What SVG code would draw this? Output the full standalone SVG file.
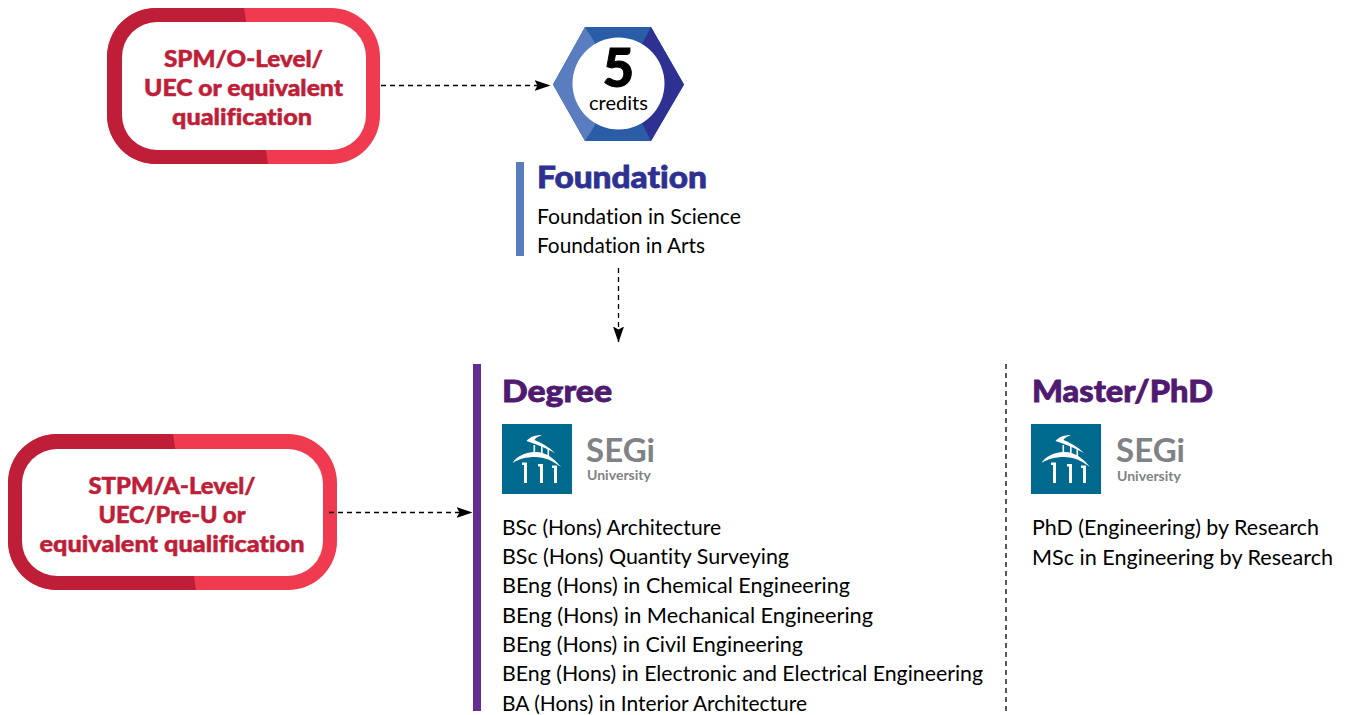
<svg xmlns="http://www.w3.org/2000/svg" width="1349" height="715" viewBox="0 0 1349 715">
<style>
text{font-family:"Lato","Open Sans","Liberation Sans",sans-serif;font-variant-ligatures:none}
.q{font-size:23px;font-weight:900;fill:#be1e37;stroke:#be1e37;stroke-width:.5px;text-anchor:middle}
.h{font-size:31px;font-weight:900;stroke-width:.8px}
.b{font-size:21.5px;fill:#000}
.conn{fill:none;stroke:#000;stroke-width:1.3;stroke-dasharray:5 4;marker-end:url(#arr)}
.seg{font-size:33px;font-weight:700;fill:#808285}
.uni{font-size:13px;font-weight:700;fill:#808285}
</style>
<defs>
<marker id="arr" viewBox="0 0 16 11" refX="15.500" refY="5.500" markerWidth="16" markerHeight="11" markerUnits="userSpaceOnUse" orient="auto"><path d="M0 0L16 5.500L0 11L3 5.500Z" fill="#000"/></marker>
<clipPath id="c1"><rect x="107" y="8" width="273" height="156" rx="49"/></clipPath>
<clipPath id="c2"><rect x="8" y="434" width="329" height="156" rx="49"/></clipPath>
<g id="logo">
<rect width="70" height="70" fill="#006a8e"/>
<g fill="#fff">
<path d="M24.500 17C28 13 33 11 40 11C36 12.500 33.500 14 32.500 16C39 18.500 47 23 53 29C44 24 34 20 24.500 17Z"/>
<path d="M10.500 39C14 33 22 28.500 33 28C43 27.500 52 34 59 43C50 36.500 43 33 33 33C24 33 17 35 10.500 39Z"/>
<rect x="31.500" y="21" width="1.600" height="9"/><rect x="39" y="22" width="1.600" height="10"/><rect x="45.500" y="25" width="1.600" height="8"/>
<path d="M20 38.500H25V59H22V41H20Z"/><path d="M36 40H41V59H38V42.500H36Z"/><path d="M50 41.500H55V59H52V44H50Z"/>
</g>
</g>
</defs>

<g id="node-spm">
<g clip-path="url(#c1)">
<rect x="107" y="8" width="273" height="156" fill="#f03a50"/>
<path d="M100 0H242.800L269 170H100Z" fill="#be1e37"/>
</g>
<rect x="122" y="22" width="244" height="128" rx="35" fill="#fff"/>
<text class="q" x="243.500" y="67" textLength="159" lengthAdjust="spacingAndGlyphs">SPM/O-Level/</text>
<text class="q" x="243.500" y="96" textLength="199" lengthAdjust="spacingAndGlyphs">UEC or equivalent</text>
<text class="q" x="242" y="125" textLength="140" lengthAdjust="spacingAndGlyphs">qualification</text>
</g>

<g id="node-credits">
<path d="M585 27H651L684 84.500L651 141H585L553 84.500Z" fill="#2a5ca8"/>
<path d="M585 27L595 43V125L585 141L553 84.500Z" fill="#5a7dc0"/>
<path d="M651 27L642 44V123L651 141L684 84.500Z" fill="#2e3192"/>
<circle cx="618.500" cy="83.500" r="46" fill="#fff"/>
<text x="618.500" y="87" text-anchor="middle" font-size="54" font-weight="900" fill="#000" stroke="#000" stroke-width="1">5</text>
<text x="618.500" y="110" text-anchor="middle" font-size="20" fill="#000" textLength="59" lengthAdjust="spacingAndGlyphs">credits</text>
</g>

<g id="node-foundation">
<rect x="516" y="162" width="8" height="94" fill="#5a7dc0"/>
<text class="h" x="537" y="187.500" fill="#2e3192" stroke="#2e3192" textLength="170" lengthAdjust="spacingAndGlyphs">Foundation</text>
<text class="b" x="537" y="224" textLength="204" lengthAdjust="spacingAndGlyphs">Foundation in Science</text>
<text class="b" x="537" y="253" textLength="168" lengthAdjust="spacingAndGlyphs">Foundation in Arts</text>
</g>

<g id="node-degree">
<rect x="473" y="364" width="8" height="347" fill="#662d91"/>
<text class="h" x="502" y="401.500" fill="#4f1a70" stroke="#4f1a70" textLength="110" lengthAdjust="spacingAndGlyphs">Degree</text>
<use href="#logo" x="502" y="424"/>
<text class="seg" x="586" y="462" textLength="69" lengthAdjust="spacingAndGlyphs">SEGi</text>
<text class="uni" x="587" y="480" textLength="64" lengthAdjust="spacingAndGlyphs">University</text>
<text class="b" x="502" y="535" textLength="219" lengthAdjust="spacingAndGlyphs">BSc (Hons) Architecture</text>
<text class="b" x="502" y="564" textLength="287" lengthAdjust="spacingAndGlyphs">BSc (Hons) Quantity Surveying</text>
<text class="b" x="502" y="593" textLength="348" lengthAdjust="spacingAndGlyphs">BEng (Hons) in Chemical Engineering</text>
<text class="b" x="502" y="623" textLength="371" lengthAdjust="spacingAndGlyphs">BEng (Hons) in Mechanical Engineering</text>
<text class="b" x="502" y="652" textLength="301" lengthAdjust="spacingAndGlyphs">BEng (Hons) in Civil Engineering</text>
<text class="b" x="502" y="681" textLength="481" lengthAdjust="spacingAndGlyphs">BEng (Hons) in Electronic and Electrical Engineering</text>
<text class="b" x="502" y="711" textLength="305" lengthAdjust="spacingAndGlyphs">BA (Hons) in Interior Architecture</text>
</g>

<g id="node-master">
<text class="h" x="1032" y="401.500" fill="#4f1a70" stroke="#4f1a70" textLength="181" lengthAdjust="spacingAndGlyphs">Master/PhD</text>
<use href="#logo" x="1031" y="424"/>
<text class="seg" x="1116" y="462" textLength="69" lengthAdjust="spacingAndGlyphs">SEGi</text>
<text class="uni" x="1117" y="481" textLength="64" lengthAdjust="spacingAndGlyphs">University</text>
<text class="b" x="1032" y="535" textLength="287" lengthAdjust="spacingAndGlyphs">PhD (Engineering) by Research</text>
<text class="b" x="1032" y="565" textLength="301" lengthAdjust="spacingAndGlyphs">MSc in Engineering by Research</text>
</g>

<g id="node-stpm">
<g clip-path="url(#c2)">
<rect x="8" y="434" width="329" height="156" fill="#f03a50"/>
<path d="M0 425H171.700L197.500 600H0Z" fill="#be1e37"/>
</g>
<rect x="22" y="449" width="301" height="127" rx="35" fill="#fff"/>
<text class="q" x="172" y="494" textLength="167" lengthAdjust="spacingAndGlyphs">STPM/A-Level/</text>
<text class="q" x="172" y="523" textLength="147" lengthAdjust="spacingAndGlyphs">UEC/Pre-U or</text>
<text class="q" x="172" y="552" textLength="265" lengthAdjust="spacingAndGlyphs">equivalent qualification</text>
</g>

<g id="connectors">
<path class="conn" d="M381 85.500H550"/>
<path class="conn" d="M618.500 268V342"/>
<path class="conn" d="M329 512.500H472"/>
<path d="M1006 364V711" fill="none" stroke="#000" stroke-width="1.300" stroke-dasharray="5 4"/>
</g>
</svg>
